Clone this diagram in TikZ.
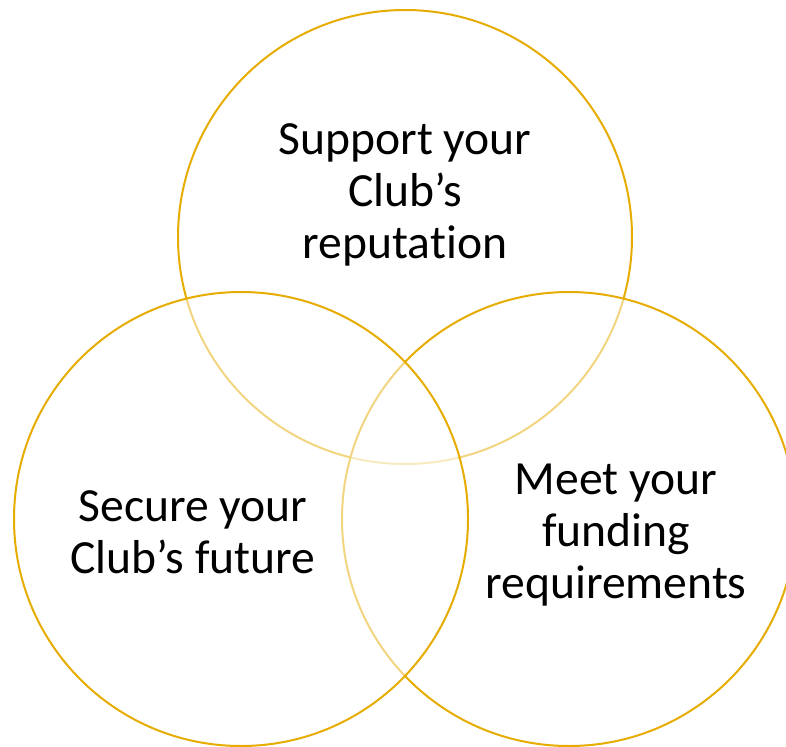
\documentclass[tikz,border=0pt]{standalone}
\usepackage{fontspec}
\setmainfont{Carlito}[Ligatures=NoCommon]
\definecolor{gold}{HTML}{E6AC00}
\begin{document}
\begin{tikzpicture}[x=1pt, y=-1pt,
  ring/.style={circle, draw=gold, line width=2pt, fill=white, fill opacity=0.5,
    minimum size=454pt, inner sep=0pt},
  venntext/.style={align=center, inner sep=0pt, anchor=base,
    font=\fontsize{47.6}{52}\selectfont}]
  \useasboundingbox (0, 0) rectangle (786, 746);
  % circles, lowest first
  \node[ring] (reputation) at (405, 237) {};
  \node[ring] (funding) at (569, 519) {};
  \node[ring] (future) at (241, 519) {};

  \node[venntext] (reputationtext) at (405, 258) {Support your\\Club’s\\reputation};
  \node[venntext] (fundingtext) at (616, 598) {Meet your\\funding\\requirements};
  \node[venntext] (futuretext) at (193, 573) {Secure your\\Club’s future};
\end{tikzpicture}
\end{document}
